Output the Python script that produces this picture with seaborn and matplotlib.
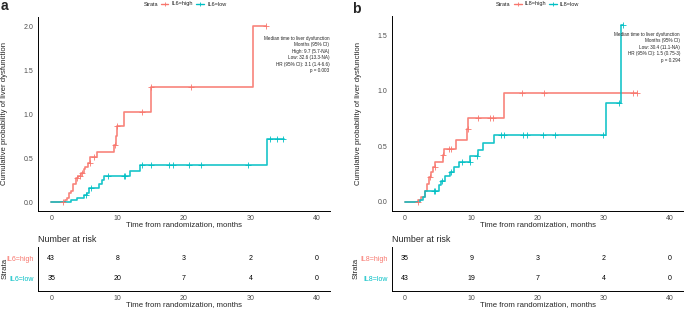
import numpy as np
import matplotlib
matplotlib.use("Agg")
import matplotlib.pyplot as plt
from matplotlib.lines import Line2D
import seaborn as sns

# DATA
# panel a: IL6 strata, cumulative hazard step curves
a_high_t = [0, 2.1, 2.4, 2.7, 3.0, 3.3, 3.7, 4.1, 4.5, 4.9, 5.1, 5.5, 5.9, 6.85, 9.5, 9.7, 9.85, 11.0, 15.0, 30.4, 32.3]
a_high_y = [0, 0.02, 0.045, 0.10, 0.13, 0.21, 0.27, 0.30, 0.33, 0.38, 0.40, 0.45, 0.51, 0.57, 0.65, 0.75, 0.87, 1.02, 1.31, 2.0, 2.0]
a_high_cens = [1.8, 3.9, 4.3, 4.7, 5.8, 6.5, 9.6, 9.9, 13.6, 15.0, 21.0, 32.3]
a_low_t = [0, 2.9, 3.9, 5.0, 5.4, 5.7, 7.2, 7.6, 7.9, 11.8, 13.4, 32.5, 35.0]
a_low_y = [0, 0.025, 0.05, 0.08, 0.11, 0.165, 0.21, 0.25, 0.30, 0.355, 0.425, 0.72, 0.72]
a_low_cens = [5.2, 6.0, 8.6, 10.9, 11.1, 13.6, 15.0, 17.7, 18.4, 20.8, 22.6, 29.7, 33.0, 34.0, 34.9]

# panel b: IL8 strata
b_high_t = [0, 2.0, 2.5, 3.0, 3.4, 3.65, 3.9, 4.3, 4.6, 5.75, 5.9, 7.65, 9.4, 9.6, 15.0, 35.1]
b_high_y = [0, 0.015, 0.04, 0.10, 0.16, 0.225, 0.27, 0.31, 0.355, 0.42, 0.475, 0.556, 0.66, 0.76, 0.984, 0.984]
b_high_cens = [1.9, 3.75, 4.5, 5.8, 6.7, 7.0, 9.5, 11.0, 12.9, 13.3, 17.7, 21.05, 34.4, 35.1]
b_low_t = [0, 2.3, 2.8, 3.1, 5.1, 5.5, 6.0, 6.8, 7.4, 8.1, 9.9, 11.0, 11.8, 13.4, 30.4, 32.7, 32.9]
b_low_y = [0, 0.02, 0.045, 0.10, 0.155, 0.19, 0.23, 0.27, 0.31, 0.355, 0.41, 0.465, 0.53, 0.605, 0.893, 1.593, 1.593]
b_low_cens = [4.4, 4.6, 5.6, 6.9, 8.6, 9.8, 10.9, 14.5, 14.9, 17.9, 18.4, 20.9, 22.7, 29.9, 32.4, 32.9]

risk_times = [0, 10, 20, 30, 40]
a_risk_high = [43, 8, 3, 2, 0]
a_risk_low = [35, 20, 7, 4, 0]
b_risk_high = [35, 9, 3, 2, 0]
b_risk_low = [43, 19, 7, 4, 0]

a_labels = ["IL6=high", "IL6=low"]
b_labels = ["IL8=high", "IL8=low"]

a_note = ["Median time to liver dysfunction", "Months (95% CI)", "High: 9.7 (5.7-NA)",
          "Low: 32.6 (13.3-NA)", "HR (95% CI): 3.1 (1.4-6.6)", "p = 0.003"]
b_note = ["Median time to liver dysfunction", "Months (95% CI)", "Low: 30.4 (11.1-NA)",
          "HR (95% CI): 1.5 (0.75-3)", "p = 0.294"]

RED = "#F8766D"
CYAN = "#00BFC4"
TXT = "#4D4D4D"

sns.set_style("white")
plt.rcParams["font.family"] = ["Liberation Sans", "DejaVu Sans"]

W, H = 685, 310
fig = plt.figure(figsize=(W / 100, H / 100), dpi=100)


def rect(l, t, r, b):
    return [l / W, 1 - b / H, (r - l) / W, (b - t) / H]


def ftext(x, y, s, **kw):
    fig.text(x / W, 1 - y / H, s, **kw)


def style_axes(ax):
    for side in ["top", "right"]:
        ax.spines[side].set_visible(False)
    for side in ["left", "bottom"]:
        ax.spines[side].set_color("black")
        ax.spines[side].set_linewidth(0.7)
    ax.tick_params(axis="both", length=2, width=0.6, pad=1.2, labelsize=5,
                   labelcolor=TXT, color="black", direction="out")
    ax.set_xlabel("")
    ax.set_ylabel("")


def curve_at(t_arr, y_arr, times):
    idx = np.searchsorted(t_arr, times, side="right") - 1
    return np.asarray(y_arr)[idx]


def draw_panel(ax, curves, ymax, yticks):
    for t_arr, y_arr, cens, col in curves:
        sns.lineplot(x=t_arr, y=y_arr, drawstyle="steps-post", color=col,
                     lw=1.2, alpha=0.9, ax=ax, sort=False)
        sns.scatterplot(x=cens, y=curve_at(t_arr, y_arr, cens), marker="+",
                        color=col, s=14, linewidth=0.6, ax=ax, zorder=3)
    ax.set_xlim(-2, 42)
    ax.set_ylim(-0.05 * ymax, ymax * 1.05)
    ax.set_xticks(risk_times)
    ax.set_yticks(yticks)
    ax.set_yticklabels([f"{v:.1f}" for v in yticks])
    style_axes(ax)


def draw_risk(ax, high, low, labels):
    for yv, vals in [(2, high), (1, low)]:
        for x, n in zip(risk_times, vals):
            ax.text(x, yv, str(n), ha="center", va="center", fontsize=5, color="black")
    ax.set_xlim(-2, 42)
    ax.set_ylim(0.4, 2.6)
    ax.set_xticks(risk_times)
    ax.set_yticks([2, 1])
    ax.set_yticklabels(labels)
    style_axes(ax)
    ticks = ax.get_yticklabels()
    ticks[0].set_color(RED)
    ticks[1].set_color(CYAN)


# panel a
ax_a = fig.add_axes(rect(38, 17.5, 330, 211))
draw_panel(ax_a, [(a_high_t, a_high_y, a_high_cens, RED),
                  (a_low_t, a_low_y, a_low_cens, CYAN)], 2.0, [0, 0.5, 1.0, 1.5, 2.0])
ax_ra = fig.add_axes(rect(38, 246.7, 330, 291))
draw_risk(ax_ra, a_risk_high, a_risk_low, a_labels)

# panel b
ax_b = fig.add_axes(rect(391.7, 16.2, 683, 210.7))
draw_panel(ax_b, [(b_high_t, b_high_y, b_high_cens, RED),
                  (b_low_t, b_low_y, b_low_cens, CYAN)], max(b_low_y), [0, 0.5, 1.0, 1.5])
ax_rb = fig.add_axes(rect(391.7, 246.7, 683, 291))
draw_risk(ax_rb, b_risk_high, b_risk_low, b_labels)

# axis titles
xlab = "Time from randomization, months"
ylab = "Cumulative probability of liver dysfunction"
for xc, xyl in [(184, 4.7), (538, 359)]:
    ftext(xc, 225, xlab, ha="center", va="center", fontsize=5.6)
    ftext(xc, 305, xlab, ha="center", va="center", fontsize=5.6)
    ftext(xyl, 114, ylab, ha="center", va="center", fontsize=5.6, rotation=90)
for xs in [5, 356]:
    ftext(xs, 268, "Strata", ha="center", va="center", fontsize=5.6, rotation=90)
ftext(37.7, 239.3, "Number at risk", ha="left", va="center", fontsize=6.4)
ftext(391.7, 239.3, "Number at risk", ha="left", va="center", fontsize=6.4)

# panel letters
ftext(1, 9.5, "a", ha="left", va="baseline", fontsize=10, fontweight="bold")
ftext(352.5, 13, "b", ha="left", va="baseline", fontsize=10, fontweight="bold")

# annotations
for lines, xr, y0 in [(a_note, 329.3, 38.3), (b_note, 680, 34.3)]:
    for i, s in enumerate(lines):
        ftext(xr, y0 + i * 6.45, s, ha="right", va="center", fontsize=3.3, color="#222222")


# legends
def legend(x_title, items):
    ftext(x_title, 4, "Strata", ha="left", va="center", fontsize=4, color="#222222")
    for x1, x2, xt, lab, col in items:
        fig.add_artist(Line2D([x1 / W, x2 / W], [1 - 4 / H, 1 - 4 / H], transform=fig.transFigure,
                              color=col, lw=1.0))
        fig.add_artist(Line2D([(x1 + x2) / 2 / W], [1 - 4 / H], transform=fig.transFigure,
                              color=col, marker="+", ms=3.5, mew=0.6, lw=0))
        ftext(xt, 4, lab, ha="left", va="center", fontsize=4, color="#222222")


legend(143.3, [(161, 168, 171.7, a_labels[0], RED), (196, 204, 207, a_labels[1], CYAN)])
legend(495.7, [(514, 521.7, 524.3, b_labels[0], RED), (549, 557, 560, b_labels[1], CYAN)])

fig.savefig("out.png", dpi=100)
